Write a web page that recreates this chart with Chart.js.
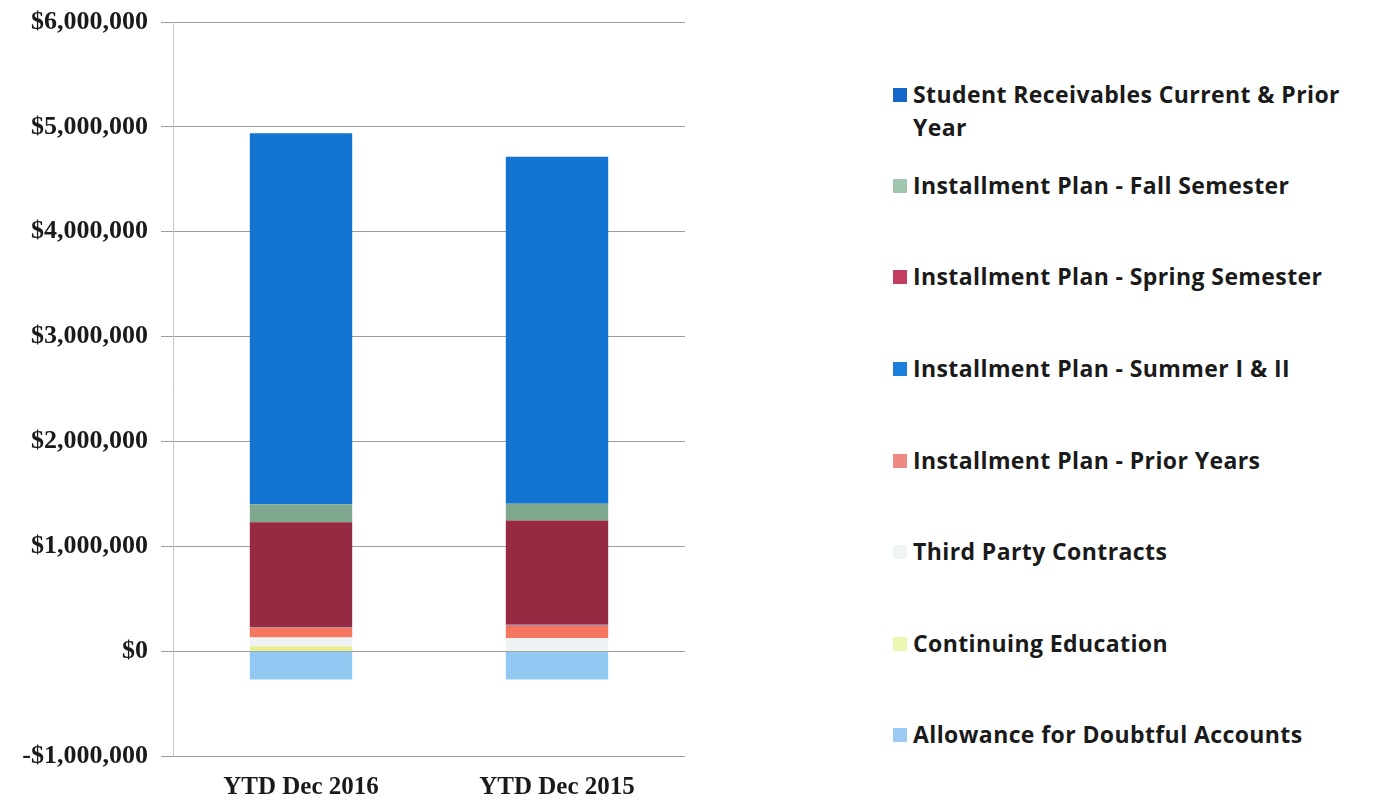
<!DOCTYPE html>
<html>
<head>
<meta charset="utf-8">
<title>Student Receivables</title>
<script src="https://cdn.jsdelivr.net/npm/chart.js@4.4.1/dist/chart.umd.min.js"></script>
<style>
  html, body { margin: 0; padding: 0; background: #fff; }
  #wrap { position: relative; width: 1380px; height: 802px; }
  #chartBox { position: absolute; left: 0; top: 0; width: 700px; height: 802px; }
  #legend { position: absolute; left: 893px; top: 0; width: 487px; font-family: "Open Sans", Lato, sans-serif; font-weight: bold; font-size: 23px; letter-spacing: 0.4px; color: #1a1a1a; }
  .item { position: absolute; left: 0; display: flex; align-items: flex-start; line-height: 33px; }
  .sw { width: 14px; height: 14px; margin-top: 10px; margin-right: 6px; flex: none; }
</style>
</head>
<body>
<div id="wrap">
  <div id="chartBox"><canvas id="ChartReceivables"></canvas></div>
  <div id="legend"></div>
</div>
<script>
  // Data (dataset order = stacking order, bottom up)
  const categories = ['YTD Dec 2016', 'YTD Dec 2015'];
  const seriesNames = [
    'Allowance for Doubtful Accounts',
    'Continuing Education',
    'Third Party Contracts',
    'Installment Plan - Prior Years',
    'Installment Plan - Summer I & II',
    'Installment Plan - Spring Semester',
    'Installment Plan - Fall Semester',
    'Student Receivables Current & Prior Year'
  ];
  const allowance   = [-270000, -270000];
  const continuing  = [45000, 5000];
  const thirdParty  = [85000, 120000];
  const priorYears  = [95000, 125000];
  const summer      = [5000, 5000];
  const spring      = [1000000, 990000];
  const fall        = [170000, 160000];
  const studentRecv = [3540000, 3310000];
  const yTicks = [-1000000, 0, 1000000, 2000000, 3000000, 4000000, 5000000, 6000000];

  (function () {
    "use strict";

    // Colors
    const barColors = ['#92c9f3', '#e6ef8c', '#eef2f3', '#f47660', '#1479d6', '#952a42', '#7fa88f', '#1274d0'];
    const swatchColors = ['#9dcaf2', '#eef6b4', '#eef3f3', '#ef8a80', '#1a80da', '#c23d60', '#a0c5b1', '#1566c8'];
    const allSeries = [allowance, continuing, thirdParty, priorYears, summer, spring, fall, studentRecv];

    function money(v) {
      const s = Math.abs(v).toString().replace(/\B(?=(\d{3})+(?!\d))/g, ',');
      return (v < 0 ? '-$' : '$') + s;
    }

    const serif = '"Liberation Serif", "Times New Roman", serif';

    const ctx = document.getElementById('ChartReceivables').getContext('2d');
    new Chart(ctx, {
      type: 'bar',
      data: {
        labels: categories,
        datasets: seriesNames.map((name, i) => ({
          label: name,
          data: allSeries[i],
          backgroundColor: barColors[i],
          borderWidth: 0,
          barPercentage: 0.8,
          categoryPercentage: 0.5
        }))
      },
      options: {
        responsive: true,
        maintainAspectRatio: false,
        animation: false,
        layout: { padding: { top: 22, right: 15, left: 0, bottom: 0 } },
        scales: {
          x: {
            stacked: true,
            grid: { display: false },
            border: { display: false },
            ticks: {
              color: '#1a1a1a',
              padding: 9,
              font: { family: serif, weight: 'bold', size: 25 }
            },
            afterFit: (scale) => { scale.height = 46; }
          },
          y: {
            stacked: true,
            min: -1000000,
            max: 6000000,
            afterBuildTicks: (scale) => { scale.ticks = yTicks.map(v => ({ value: v })); },
            grid: { color: '#9c9c9c', lineWidth: 1, tickLength: 12 },
            border: { color: '#c8c8c8' },
            ticks: {
              color: '#1a1a1a',
              padding: 13,
              font: { family: serif, weight: 'bold', size: 26 },
              callback: (value) => money(value)
            },
            afterFit: (scale) => {
              scale.width = 173;
              scale.paddingTop = 0;
              scale.paddingBottom = 0;
            }
          }
        },
        plugins: {
          legend: { display: false },
          tooltip: { enabled: false }
        }
      }
    });

    // Legend (reverse order, like the original)
    const legendTops = [78, 169, 260, 352, 444, 535, 627, 718];
    const legend = document.getElementById('legend');
    for (let k = 0; k < seriesNames.length; k++) {
      const i = seriesNames.length - 1 - k;
      const item = document.createElement('div');
      item.className = 'item';
      item.style.top = legendTops[k] + 'px';
      const sw = document.createElement('span');
      sw.className = 'sw';
      sw.style.background = swatchColors[i];
      const txt = document.createElement('span');
      txt.textContent = seriesNames[i];
      if (k === 0) txt.style.width = '465px';
      item.appendChild(sw);
      item.appendChild(txt);
      legend.appendChild(item);
    }
  })();
</script>
</body>
</html>
